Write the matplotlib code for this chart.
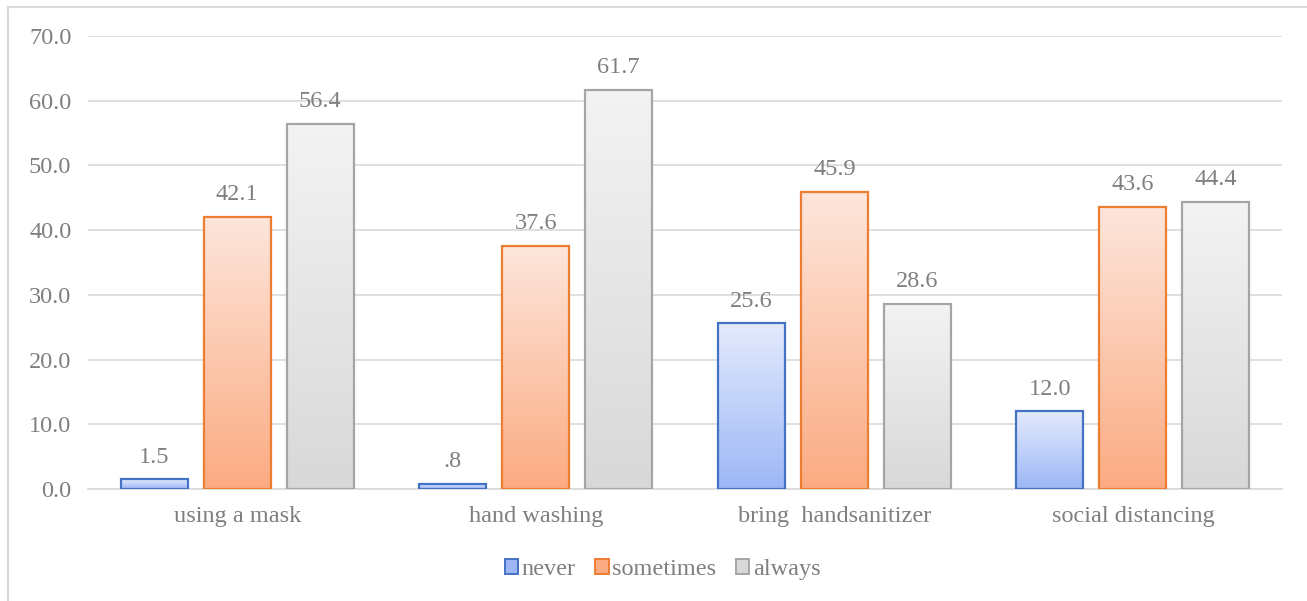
import numpy as np
import matplotlib.pyplot as plt
from matplotlib.colors import LinearSegmentedColormap
from matplotlib.patches import Rectangle
from matplotlib.lines import Line2D

categories = ["using a mask", "hand washing", "bring  handsanitizer", "social distancing"]
series_names = ["never", "sometimes", "always"]
never = [1.5, 0.8, 25.6, 12.0]
sometimes = [42.1, 37.6, 45.9, 43.6]
always = [56.4, 61.7, 28.6, 44.4]
yticks = [0, 10, 20, 30, 40, 50, 60, 70]

# (top colour, bottom colour, edge colour) for each series
styles = [
    ("#e3eafc", "#9db7f6", "#4472c4"),
    ("#fde6dc", "#fbab82", "#ed7d31"),
    ("#f3f3f3", "#d8d8d8", "#a5a5a5"),
]

text_col = "#7f7f7f"
grid_col = "#d9d9d9"
fs = 17.5
plt.rcParams["font.family"] = ["Liberation Serif", "DejaVu Serif"]

fig = plt.figure(figsize=(13.07, 6.01), dpi=100)
ax = fig.add_axes([0.0673, 0.1864, 0.9137, 0.7536])

x = np.arange(len(categories))
width = 0.224
offset = 0.278
data = [never, sometimes, always]


def label_fmt(v):
    s = f"{v:.1f}"
    return s[1:] if s.startswith("0.") else s


for i, (vals, (top, bottom, edge)) in enumerate(zip(data, styles)):
    cmap = LinearSegmentedColormap.from_list(series_names[i], [bottom, top])
    grad = np.linspace(0, 1, 256).reshape(-1, 1)
    for xi, v in zip(x, vals):
        left = xi + (i - 1) * offset - width / 2
        bar = Rectangle((left, 0), width, v, facecolor="none",
                        edgecolor=edge, linewidth=1.6, zorder=3)
        ax.add_patch(bar)
        im = ax.imshow(grad, cmap=cmap, origin="lower", aspect="auto",
                       extent=(left, left + width, 0, v), zorder=2)
        im.set_clip_path(bar)
        ax.text(xi + (i - 1) * offset, v + 1.8, label_fmt(v), ha="center",
                va="bottom", fontsize=fs, color=text_col)

ax.set_xlim(-0.5, len(categories) - 0.5)
ax.set_ylim(0, 70)
ax.set_yticks(yticks)
ax.set_yticklabels([f"{t:.1f}" for t in yticks])
ax.set_xticks(x)
ax.set_xticklabels(categories)
ax.tick_params(axis="both", length=0, labelsize=fs, labelcolor=text_col)
ax.tick_params(axis="x", pad=12)
ax.tick_params(axis="y", pad=12)
ax.grid(axis="y", color=grid_col, linewidth=1.2, zorder=0)
ax.set_axisbelow(True)
for side in ["top", "right", "left"]:
    ax.spines[side].set_visible(False)
ax.spines["bottom"].set_color(grid_col)
ax.spines["bottom"].set_linewidth(1.2)

handles = [Rectangle((0, 0), 1, 1, facecolor=st[1], edgecolor=st[2], linewidth=1.4)
           for st in styles]
leg = fig.legend(handles, series_names, loc="center", bbox_to_anchor=(0.507, 0.052),
                 ncol=3, frameon=False, fontsize=fs, handlelength=0.55,
                 handleheight=0.55, handletextpad=0.15, columnspacing=0.8)
for t in leg.get_texts():
    t.set_color(text_col)

# outer chart border (left and top edges)
fig.add_artist(Line2D([8 / 1307, 8 / 1307], [0, 1 - 7 / 601],
                      transform=fig.transFigure, color=grid_col, linewidth=1.5))
fig.add_artist(Line2D([8 / 1307, 1], [1 - 7 / 601, 1 - 7 / 601],
                      transform=fig.transFigure, color=grid_col, linewidth=1.5))

fig.savefig("out.png", dpi=100)
